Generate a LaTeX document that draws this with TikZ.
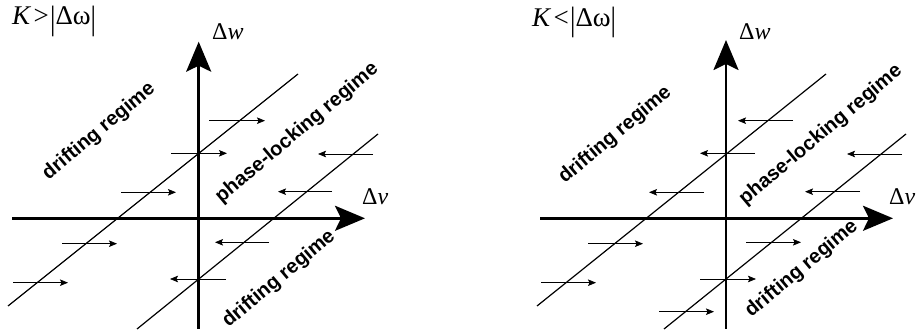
\documentclass[tikz,border=0pt]{standalone}
\usepackage{fontspec}
\usepackage{graphicx}
\setmainfont{Liberation Serif}
\setsansfont{Liberation Sans}
\usetikzlibrary{arrows.meta}
\tikzset{
  axisline/.style={line width=2.6pt, -{Stealth[length=30pt,width=25pt,inset=6pt]}},
  bound/.style={line width=1.2pt},
  flow/.style={line width=0.8pt, -{Stealth[length=8pt,width=6.5pt,inset=1.5pt]}},
  regime/.style={font=\sffamily\bfseries\fontsize{20}{21}\selectfont, rotate=40, inner sep=0pt},
  axlabel/.style={font=\fontsize{24}{25}\selectfont, anchor=base west, inner sep=0pt},
  cond/.style={font=\fontsize{27}{29}\selectfont, anchor=base west, inner sep=0pt}
}
\newcommand{\tallbar}{\raisebox{-0.16em}{\scalebox{1}[1.25]{|}}}
\begin{document}
\begin{tikzpicture}[x=1pt,y=-1pt]
\useasboundingbox (0,0) rectangle (921,336);
% ---------- left panel ----------
\node[cond] (condL) at (12,25) {\textit{K}\hspace{0.08em}>\hspace{0.05em}\tallbar\(\)Δω\tallbar};
\coordinate (hL0) at (12,218.3);   \coordinate (hL1) at (365,218.3);
\coordinate (vL0) at (198.7,329);  \coordinate (vL1) at (198.7,41.7);
\draw[axisline] (hL0) -- (hL1);
\draw[axisline] (vL0) -- (vL1);
\node[axlabel] (dwL) at (212,40) {Δ\textit{w}};
\node[axlabel] (dvL) at (362,205) {Δ\textit{v}};
\coordinate (aL0) at (8,306);   \coordinate (aL1) at (298,74);
\coordinate (bL0) at (137,329); \coordinate (bL1) at (378,134);
\draw[bound] (aL0) -- (aL1);
\draw[bound] (bL0) -- (bL1);
\node[regime] (d1L) at (99,131.5) {drifting regime};
\node[regime] (pL) at (297,133) {phase-locking regime};
\node[regime] (d2L) at (279,279) {drifting regime};
\foreach \xa/\xb/\yy in {209/265/120.7, 171/227/153.3, 121/176/192.3, 62/117/243.7, 13/68/282.7,
                         373/318/154, 332/278/191.7, 269/215/242.3, 226/170/279}
  \draw[flow] (\xa,\yy) -- (\xb,\yy);
% ---------- right panel ----------
\node[cond] (condR) at (532,26.5) {\textit{K}\hspace{0.08em}<\hspace{0.05em}\tallbar\(\)Δω\tallbar};
\coordinate (hR0) at (540,218.3);  \coordinate (hR1) at (893,218.3);
\coordinate (vR0) at (726,329);    \coordinate (vR1) at (726,40);
\draw[axisline] (hR0) -- (hR1);
\draw[axisline] (vR0) -- (vR1);
\node[axlabel] (dwR) at (739,40) {Δ\textit{w}};
\node[axlabel] (dvR) at (889,205) {Δ\textit{v}};
\coordinate (aR0) at (537,306);  \coordinate (aR1) at (826,74);
\coordinate (bR0) at (664,329);  \coordinate (bR1) at (906,134);
\draw[bound] (aR0) -- (aR1);
\draw[bound] (bR0) -- (bR1);
\node[regime] (d1R) at (615.3,135) {drifting regime};
\node[regime] (pR) at (820.8,135) {phase-locking regime};
\node[regime] (d2R) at (801.7,269) {drifting regime};
\foreach \xa/\xb/\yy in {793/738/120.7, 755/700/153.3, 704/649/192.3, 902/847/154, 860/805/191.7,
                         588/643/243.7, 541/596/282.7, 746/801/242.3, 700/756/279, 659/714/311.7}
  \draw[flow] (\xa,\yy) -- (\xb,\yy);
\end{tikzpicture}
\end{document}
